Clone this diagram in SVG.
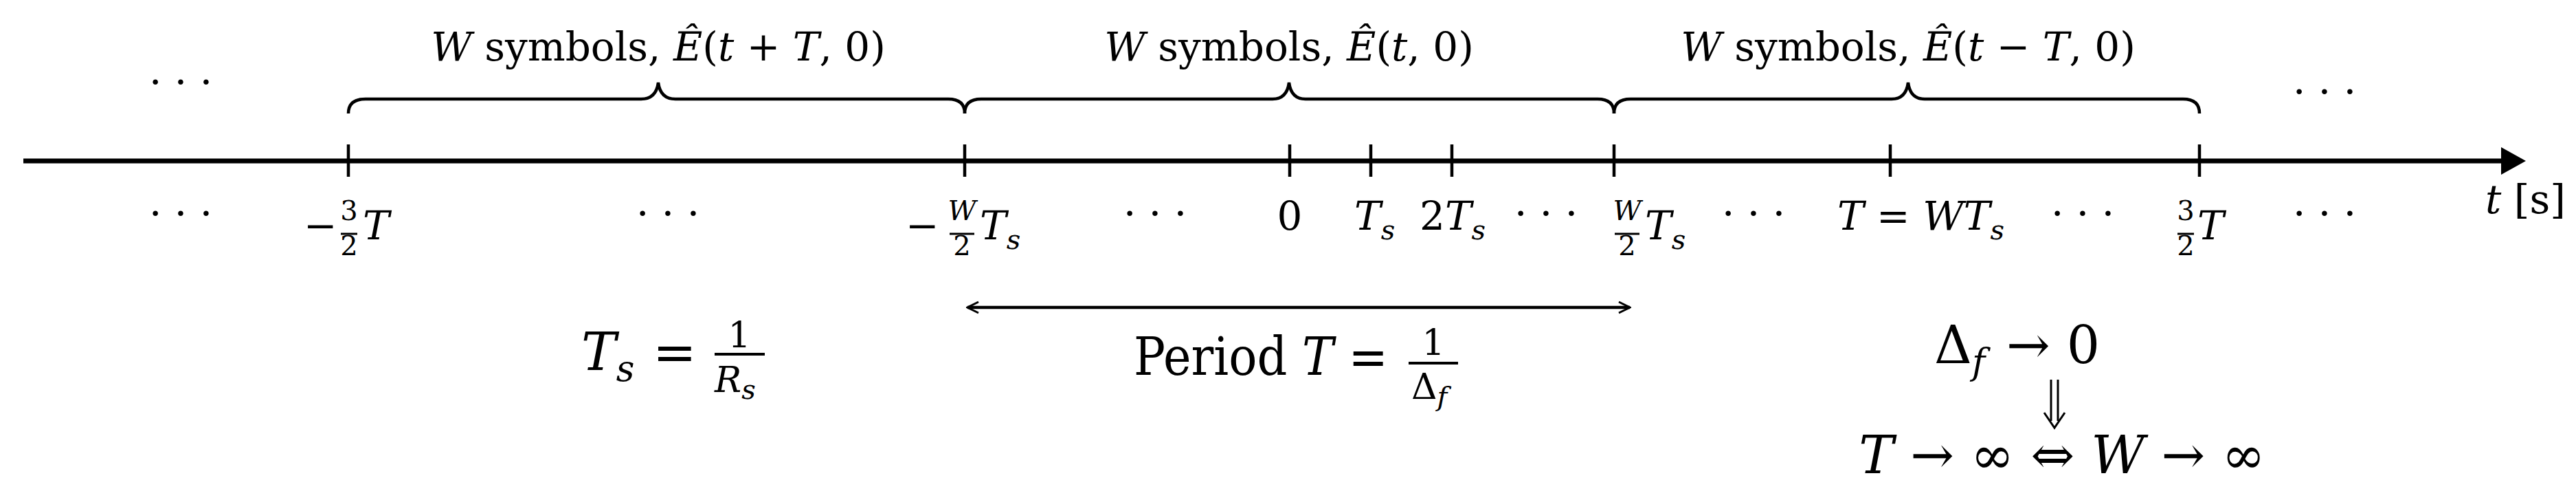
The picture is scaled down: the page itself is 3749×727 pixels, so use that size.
<svg xmlns="http://www.w3.org/2000/svg" width="3749" height="727" viewBox="0 0 3749 727" font-family="'DejaVu Serif', serif">
<style>
text{fill:#000}
.i{font-style:italic}
.t{font-size:58px}
.l{font-size:58px}
.s{font-size:40px}
.b{font-size:76px}
.bs{font-size:52px}
.st{stroke:#000;fill:none;stroke-width:4.5}
</style>
<defs>
<marker id="ah" viewBox="0 0 20 20" refX="18" refY="10" markerWidth="20" markerHeight="20" markerUnits="userSpaceOnUse" orient="auto-start-reverse"><path d="M2,2 L18,10 L2,18" fill="none" stroke="#000" stroke-width="3"/></marker>
</defs>
<g id="connectors">
<line x1="34" y1="234" x2="3650" y2="234" stroke="#000" stroke-width="7"/>
<path d="M3640,214 L3676,234 L3640,254 Z" fill="#000"/>
<g class="st">
<line x1="507" y1="210" x2="507" y2="257"/>
<line x1="1404" y1="210" x2="1404" y2="257"/>
<line x1="1877" y1="210" x2="1877" y2="257"/>
<line x1="1995" y1="210" x2="1995" y2="257"/>
<line x1="2113" y1="210" x2="2113" y2="257"/>
<line x1="2349" y1="210" x2="2349" y2="257"/>
<line x1="2751" y1="210" x2="2751" y2="257"/>
<line x1="3201" y1="210" x2="3201" y2="257"/>
<path d="M507,165 Q507,144 532,144 L933,144 Q955,144 958,120 Q961,144 983,144 L1380,144 Q1404,144 1404,165"/>
<path d="M1404,165 Q1404,144 1428,144 L1852,144 Q1873,144 1876,120 Q1879,144 1900,144 L2325,144 Q2349,144 2349,165"/>
<path d="M2349,165 Q2349,144 2373,144 L2753,144 Q2774,144 2777,120 Q2780,144 2801,144 L3177,144 Q3201,144 3201,165"/>
<line x1="1408" y1="447" x2="2372" y2="447" marker-start="url(#ah)" marker-end="url(#ah)"/>
<line x1="2985" y1="552" x2="2985" y2="612" stroke-width="3"/>
<line x1="2995" y1="552" x2="2995" y2="612" stroke-width="3"/>
<path d="M2975,600 L2990,622 L3005,600" stroke-width="3"/>
</g>
</g>
<g id="top-labels" class="t">
<text x="958" y="88" text-anchor="middle"><tspan class="i">W</tspan> symbols, <tspan class="i">Ê</tspan>(<tspan class="i">t</tspan> + <tspan class="i">T</tspan>, 0)</text>
<text x="1876" y="88" text-anchor="middle"><tspan class="i">W</tspan> symbols, <tspan class="i">Ê</tspan>(<tspan class="i">t</tspan>, 0)</text>
<text x="2777" y="88" text-anchor="middle"><tspan class="i">W</tspan> symbols, <tspan class="i">Ê</tspan>(<tspan class="i">t</tspan> − <tspan class="i">T</tspan>, 0)</text>
<text x="263" y="139" text-anchor="middle">· · ·</text>
<text x="3383" y="153" text-anchor="middle">· · ·</text>
</g>
<g id="tick-labels" class="l">
<text x="263" y="330" text-anchor="middle">· · ·</text>
<text x="972" y="330" text-anchor="middle">· · ·</text>
<text x="1681" y="330" text-anchor="middle">· · ·</text>
<text x="2250" y="330" text-anchor="middle">· · ·</text>
<text x="2552" y="330" text-anchor="middle">· · ·</text>
<text x="3031" y="330" text-anchor="middle">· · ·</text>
<text x="3383" y="330" text-anchor="middle">· · ·</text>
<text x="442" y="348">−</text>
<text x="508" y="320" class="s" text-anchor="middle">3</text>
<line x1="496" y1="340" x2="520" y2="340" stroke="#000" stroke-width="3"/>
<text x="508" y="371" class="s" text-anchor="middle">2</text>
<text x="528" y="348" class="i">T</text>
<text x="1318" y="348">−</text>
<text x="1400" y="320" class="s i" text-anchor="middle">W</text>
<line x1="1382" y1="340" x2="1418" y2="340" stroke="#000" stroke-width="3"/>
<text x="1400" y="371" class="s" text-anchor="middle">2</text>
<text x="1426" y="348" class="i">T<tspan class="s" dy="14">s</tspan></text>
<text x="1877" y="334" text-anchor="middle">0</text>
<text x="1971" y="334" class="i">T<tspan class="s" dy="14">s</tspan></text>
<text x="2066" y="334">2<tspan class="i">T</tspan><tspan class="s i" dy="14">s</tspan></text>
<text x="2368" y="320" class="s i" text-anchor="middle">W</text>
<line x1="2350" y1="340" x2="2386" y2="340" stroke="#000" stroke-width="3"/>
<text x="2368" y="371" class="s" text-anchor="middle">2</text>
<text x="2394" y="348" class="i">T<tspan class="s" dy="14">s</tspan></text>
<text x="2674" y="334"><tspan class="i">T</tspan> = <tspan class="i">WT</tspan><tspan class="s i" dy="14">s</tspan></text>
<text x="3181" y="320" class="s" text-anchor="middle">3</text>
<line x1="3169" y1="340" x2="3193" y2="340" stroke="#000" stroke-width="3"/>
<text x="3181" y="371" class="s" text-anchor="middle">2</text>
<text x="3198" y="348" class="i">T</text>
<text x="3617" y="310"><tspan class="i">t</tspan> [s]</text>
</g>
<g id="ts-eq" class="b">
<text x="846" y="538" class="i">T<tspan class="bs" dy="16">s</tspan></text>
<text x="950" y="538">=</text>
<text x="1076" y="505" class="bs" text-anchor="middle">1</text>
<line x1="1040" y1="515" x2="1113" y2="515" stroke="#000" stroke-width="4"/>
<text x="1040" y="570" class="bs i">R<tspan class="s" dy="10">s</tspan></text>
</g>
<g id="period" class="b">
<text x="1650" y="545" textLength="370" lengthAdjust="spacingAndGlyphs">Period <tspan class="i">T</tspan> =</text>
<text x="2086" y="516" class="bs" text-anchor="middle">1</text>
<line x1="2050" y1="528" x2="2122" y2="528" stroke="#000" stroke-width="4"/>
<text x="2054" y="580" class="bs">Δ<tspan class="s i" dy="10">f</tspan></text>
</g>
<g id="limits" class="b">
<text x="2815" y="528">Δ<tspan class="bs i" dy="16">f</tspan></text>
<text x="2920" y="528">→ 0</text>
<text x="3001" y="688" text-anchor="middle"><tspan class="i">T</tspan> → ∞ ⇔ <tspan class="i">W</tspan> → ∞</text>
</g>
</svg>
